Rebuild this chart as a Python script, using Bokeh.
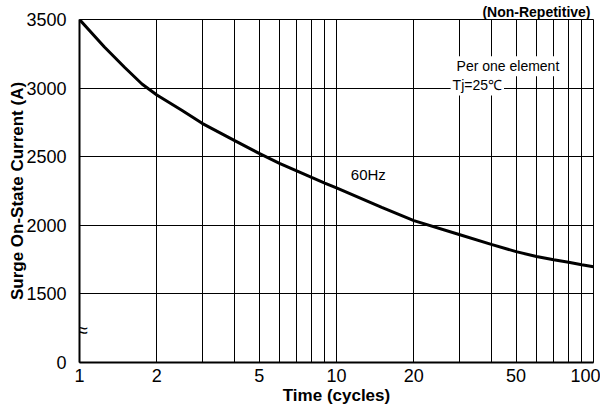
from bokeh.plotting import figure
from bokeh.models import FixedTicker, Label, Range1d, Title
from bokeh.embed import file_html
from bokeh.resources import INLINE

# Data
cycles = [1, 1.25, 1.5, 1.75, 2, 2.5, 3, 4, 5, 6, 7, 8, 9, 10, 15, 20, 30, 40, 50, 60, 70, 80, 90, 100]
current = [3500, 3300, 3150, 3030, 2950, 2838, 2743, 2619, 2524, 2452, 2397, 2349, 2308, 2272,
           2130, 2034, 1933, 1861, 1808, 1773, 1749, 1731, 1713, 1698]

x_ticks = [1, 2, 5, 10, 20, 50, 100]
x_grid = [1, 2, 3, 4, 5, 6, 7, 8, 9, 10, 20, 30, 40, 50, 60, 70, 80, 90, 100]
y_ticks = [1000, 1500, 2000, 2500, 3000, 3500]
y_tick_labels = {1000: "0"}
y_grid = [1500, 2000, 2500, 3000, 3500]

FONT = "Liberation Sans"

p = figure(x_axis_type="log", output_backend="svg", toolbar_location=None,
           width=600, height=408,
           min_border_left=79, min_border_right=7, min_border_top=19, min_border_bottom=46,
           x_range=Range1d(1, 100), y_range=Range1d(1000, 3500))
p.background_fill_color = "white"
p.border_fill_color = "white"
p.outline_line_color = "black"
p.outline_line_width = 1

p.line(cycles, current, line_color="black", line_width=3)

# title (top right, above the frame)
t = Title(text="(Non-Repetitive)", align="right", text_font=FONT, text_font_size="14px",
          text_font_style="bold", text_color="black", standoff=0, offset=3)
p.add_layout(t, "above")

# x axis
xa = p.xaxis[0]
xa.ticker = FixedTicker(ticks=x_ticks)
xa.major_label_overrides = {1: "1", 2: "2", 5: "5", 10: "10", 20: "20", 50: "50", 100: "100"}
xa.axis_label = "Time (cycles)"
xa.axis_label_text_font = FONT
xa.axis_label_text_font_style = "bold"
xa.axis_label_text_font_size = "17px"
xa.axis_label_text_color = "black"
xa.axis_label_standoff = 1
xa.major_label_text_font = FONT
xa.major_label_text_font_size = "18px"
xa.major_label_text_color = "black"
xa.major_label_standoff = 0
xa.major_tick_line_color = None
xa.minor_tick_line_color = None
xa.axis_line_color = "black"
xa.axis_line_width = 2

ya = p.yaxis[0]
ya.ticker = FixedTicker(ticks=y_ticks)
ya.major_label_overrides = y_tick_labels
ya.axis_label = "Surge On-State Current (A)"
ya.axis_label_text_font = FONT
ya.axis_label_text_font_style = "bold"
ya.axis_label_text_font_size = "17px"
ya.axis_label_text_color = "black"
ya.axis_label_standoff = -4
ya.major_label_text_font = FONT
ya.major_label_text_font_size = "18px"
ya.major_label_text_color = "black"
ya.major_label_standoff = 7
ya.major_tick_line_color = None
ya.minor_tick_line_color = None
ya.axis_line_color = "black"
ya.axis_line_width = 2

p.xgrid[0].ticker = FixedTicker(ticks=x_grid)
p.xgrid[0].grid_line_color = "black"
p.xgrid[0].grid_line_width = 1
p.ygrid[0].ticker = FixedTicker(ticks=y_grid)
p.ygrid[0].grid_line_color = "black"
p.ygrid[0].grid_line_width = 1

def lab(x, y, text, size, align="left", baseline="middle", bg=None, style="normal"):
    l = Label(x=x, y=y, text=text, text_font=FONT, text_font_size=size,
              text_align=align, text_baseline=baseline, text_color="black",
              text_font_style=style)
    if bg:
        l.background_fill_color = bg
        l.padding = 2
    p.add_layout(l)
    return l

lab(28.8, 3160, "Per one element", "14px", bg="white", baseline="alphabetic")
lab(27.8, 3019, "Tj=25℃", "14px", bg="white")
lab(13.3, 2370, "60Hz", "15px", align="center")
lab(1.027, 1240, "≈", "20px", align="center")

open("out.html", "w").write(file_html(p, INLINE))
